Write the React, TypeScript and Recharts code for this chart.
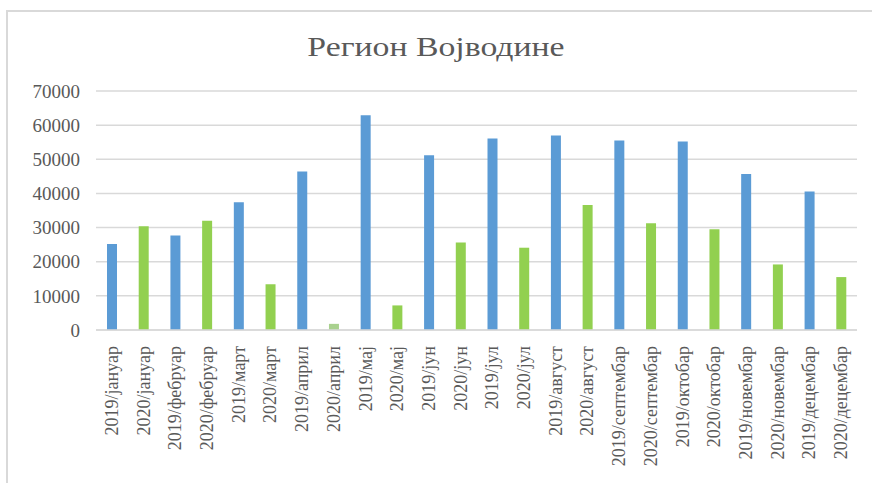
import { BarChart, Bar, XAxis, YAxis, CartesianGrid, Cell } from "recharts"

const months = [
  "2019/јануар", "2020/јануар", "2019/фебруар", "2020/фебруар",
  "2019/март", "2020/март", "2019/април", "2020/април",
  "2019/мај", "2020/мај", "2019/јун", "2020/јун",
  "2019/јул", "2020/јул", "2019/август", "2020/август",
  "2019/септембар", "2020/септембар", "2019/октобар", "2020/октобар",
  "2019/новембар", "2020/новембар", "2019/децембар", "2020/децембар"
]

const values = [
  25200, 30400, 27700, 32000,
  37400, 13400, 46400, 1800,
  62900, 7200, 51200, 25600,
  56100, 24100, 57000, 36600,
  55500, 31300, 55200, 29500,
  45700, 19200, 40600, 15500
]

const yTicks = [0, 10000, 20000, 30000, 40000, 50000, 60000, 70000]

const data = months.map((m, i) => ({ month: m, value: values[i] }))

const BLUE = "#5B9BD5"
const GREEN = "#92D050"
const LIGHT_GREEN = "#A9D18E"
const TEXT = "#595959"
const GRID = "#D9D9D9"

const barColor = (m: string) => {
  if (m === "2020/април") return LIGHT_GREEN
  return m.startsWith("2019") ? BLUE : GREEN
}

const MonthTick = (props: any) => {
  const { x, y, payload } = props
  return (
    <text
      x={x}
      y={y}
      transform={`rotate(-90 ${x} ${y})`}
      textAnchor="end"
      dominantBaseline="central"
      fill={TEXT}
      fontSize={18}
      fontFamily="'Liberation Serif', 'Times New Roman', serif"
    >
      {payload.value}
    </text>
  )
}

export default function App() {
  return (
    <div
      style={{
        position: "absolute",
        left: 0,
        top: 0,
        width: 872,
        height: 483,
        background: "#fff",
        overflow: "hidden"
      }}
    >
      {/* chart frame */}
      <div
        style={{
          position: "absolute",
          left: 6,
          top: 10,
          width: 880,
          height: 480,
          borderLeft: "2px solid #D9D9D9",
          borderTop: "2px solid #D9D9D9"
        }}
      />

      {/* title */}
      <div
        style={{
          position: "absolute",
          left: 0,
          top: 34,
          width: 872,
          textAlign: "center",
          fontFamily: "'Liberation Serif', 'Times New Roman', serif",
          fontSize: 27,
          lineHeight: "27px",
          color: TEXT,
          transform: "scaleX(1.25)"
        }}
      >
        Регион Војводине
      </div>

      <div style={{ position: "absolute", left: 0, top: 0 }}>
        <BarChart
          width={872}
          height={483}
          data={data}
          margin={{ top: 91, right: 15, bottom: 0, left: 0 }}
        >
          <CartesianGrid vertical={false} stroke={GRID} strokeWidth={1.5} />
          <XAxis
            dataKey="month"
            interval={0}
            height={153}
            tickLine={false}
            axisLine={{ stroke: GRID, strokeWidth: 1.5 }}
            tickMargin={10}
            tick={<MonthTick />}
          />
          <YAxis
            width={96}
            domain={[0, 70000]}
            ticks={yTicks}
            axisLine={false}
            tickLine={false}
            tickMargin={10}
            tick={{
              fill: TEXT,
              fontSize: 19,
              fontFamily: "'Liberation Serif', 'Times New Roman', serif"
            }}
          />
          <Bar dataKey="value" barSize={10} isAnimationActive={false}>
            {data.map((d) => (
              <Cell key={d.month} fill={barColor(d.month)} />
            ))}
          </Bar>
        </BarChart>
      </div>
    </div>
  )
}
